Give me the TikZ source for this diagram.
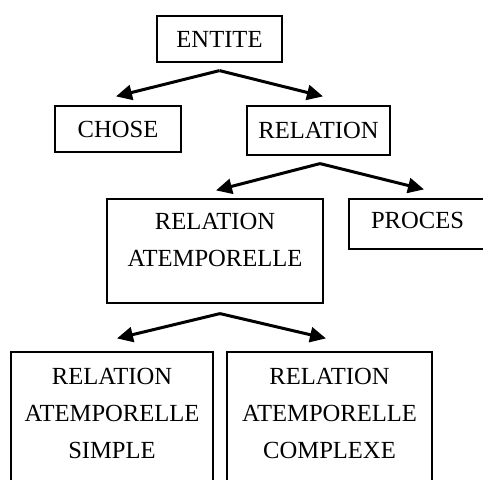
\documentclass[tikz,border=0pt]{standalone}
\usepackage{fontspec}
\setmainfont{Liberation Serif}
\usetikzlibrary{arrows.meta}
\begin{document}
\begin{tikzpicture}[x=0.5pt,y=-0.5pt,
  box/.style={draw,line width=0.6pt,align=center,inner sep=0pt,font=\fontsize{12.3}{18.5}\selectfont},
  arr/.style={line width=1.5pt,-{Triangle[length=8pt,width=7.5pt]}}]
\useasboundingbox (0,0) rectangle (483,480);
\clip (0,0) rectangle (483,480);
\node[box,minimum width=62.5pt,minimum height=23pt] (entite) at (219.5,39) {ENTITE};
\node[box,minimum width=63pt,minimum height=23pt] (chose) at (118,129) {CHOSE};
\node[box,minimum width=71.5pt,minimum height=24.5pt] (relation) at (318.5,130.5) {RELATION};
\node[box,minimum width=108pt,minimum height=52pt] (ratemp) at (215,251) {RELATION\\ATEMPORELLE\\[-7pt]~};
\node[box,minimum width=68.5pt,minimum height=25pt,text depth=4pt] (proces) at (417.5,224) {PROCES};
\node[box,minimum width=101pt,minimum height=77pt] (simple) at (112,429) {RELATION\\ATEMPORELLE\\SIMPLE\\[-2.5pt]~};
\node[box,minimum width=102.5pt,minimum height=77pt] (complexe) at (329.5,429) {RELATION\\ATEMPORELLE\\COMPLEXE\\[-2.5pt]~};
% fleches
\coordinate (a1) at ([yshift=-4pt]entite.south);
\draw[arr] (a1) -- ([xshift=-1pt,yshift=4.5pt]chose.north);
\draw[arr] (a1) -- ([xshift=2.25pt,yshift=4.5pt]relation.north);
\coordinate (a2) at ([xshift=0.75pt,yshift=-4pt]relation.south);
\draw[arr] (a2) -- ([xshift=0.5pt,yshift=4pt]ratemp.north);
\draw[arr] (a2) -- ([xshift=3.25pt,yshift=4.5pt]proces.north);
\coordinate (a3) at ([xshift=2.5pt,yshift=-5pt]ratemp.south);
\draw[arr] (a3) -- ([xshift=2.5pt,yshift=6.5pt]simple.north);
\draw[arr] (a3) -- ([xshift=-1.75pt,yshift=6.5pt]complexe.north);
\end{tikzpicture}
\end{document}
